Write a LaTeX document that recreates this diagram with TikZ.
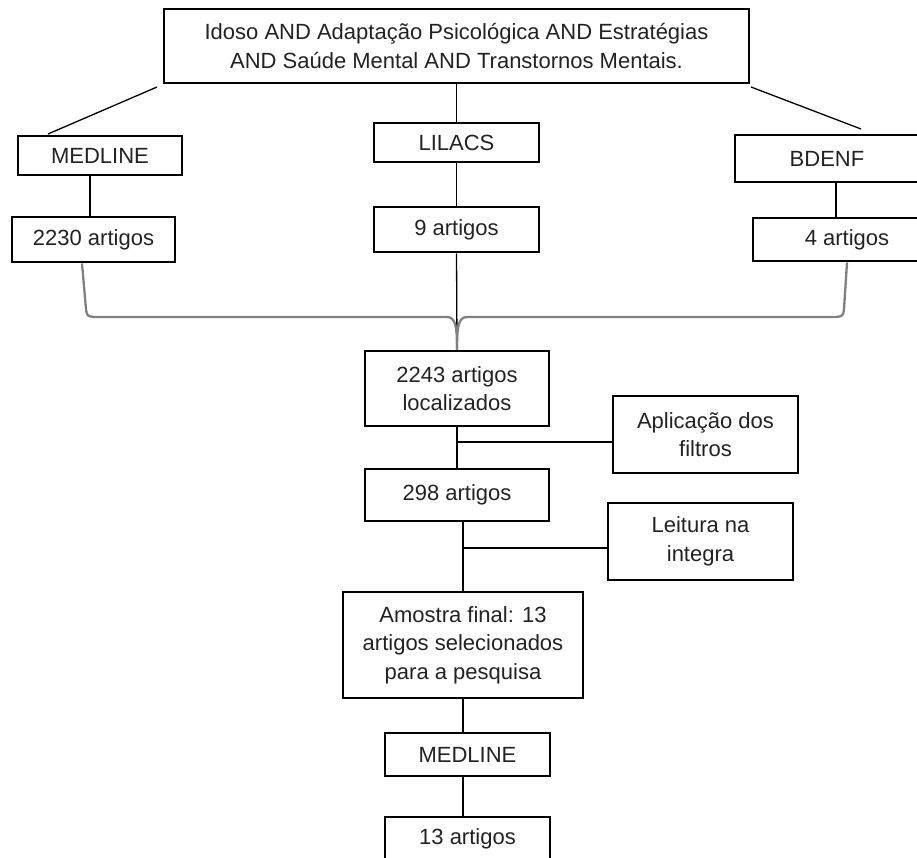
\documentclass[tikz,border=0pt]{standalone}
\usepackage{fontspec}
\setmainfont{Liberation Sans}
\usetikzlibrary{positioning}
\definecolor{FluxoTexto}{HTML}{222222}
\definecolor{FluxoChave}{HTML}{808080}
\tikzset{
  caixa/.style={draw,line width=2.9pt,align=center,inner sep=0pt,
    text=FluxoTexto,font=\fontsize{22}{28.5}\selectfont},
  liga/.style={line width=1.3pt},
  chave/.style={line width=2.3pt,draw=FluxoChave},
}

\begin{document}
\begin{tikzpicture}[x=1pt,y=-1pt]
        \useasboundingbox (0,0) rectangle (917,857);

        % busca
        \node[caixa,minimum width=585pt,minimum height=74pt] (busca) at (456.5,46)
          {Idoso AND Adaptação Psicológica AND Estratégias\\AND Saúde Mental AND Transtornos Mentais.};

        % bases
        \node[caixa,minimum width=164pt,minimum height=39pt] (medline) at (100,155.5) {MEDLINE};
        \node[caixa,minimum width=165pt,minimum height=39pt] (lilacs) at (456.5,142.5) {LILACS};
        \node[caixa,minimum width=184pt,minimum height=47pt] (bdenf) at (827,158.5) {BDENF};

        \node[caixa,minimum width=163pt,minimum height=45pt] (artA) at (93.5,239.5) {2230 artigos};
        \node[caixa,minimum width=165pt,minimum height=45pt] (artB) at (456.5,229.5) {9 artigos};
        \node[caixa,minimum width=188pt,minimum height=43pt] (artC) at (847,239.5) {4 artigos};

        % triagem
        \node[caixa,minimum width=184pt,minimum height=75pt] (agrup) at (457,388.5) {2243 artigos\\localizados};
        \node[caixa,minimum width=185pt,minimum height=77pt] (filtros) at (705.5,434.5) {Aplicação dos\\filtros};
        \node[caixa,minimum width=184pt,minimum height=52pt] (art298) at (457,495) {298 artigos};
        \node[caixa,minimum width=185pt,minimum height=77pt] (leitura) at (700.5,541.5) {Leitura na\\integra};
        \node[caixa,minimum width=240pt,minimum height=106pt] (amostra) at (463,645)
          {Amostra final: 13\\artigos selecionados\\para a pesquisa};
        \node[caixa,minimum width=165pt,minimum height=43pt] (medlineB) at (467.5,754.5) {MEDLINE};
        \node[caixa,minimum width=165pt,minimum height=44pt] (final) at (467.5,839) {13 artigos};

        \coordinate (diagA1) at (157,87);
        \coordinate (diagA2) at (48,134);
        \coordinate (diagB1) at (751,87);
        \coordinate (diagB2) at (861,129);
        \coordinate (ramoF) at (457,442);
        \coordinate (ramoL) at (464,548);

        \draw[liga] (diagA1) -- (diagA2);
        \draw[liga] (diagB1) -- (diagB2);
        \draw[liga] (busca.south) -- (lilacs.north);
        \draw[liga] ([xshift=-10pt]medline.south) -- ([xshift=-10pt]medline.south |- artA.north);
        \draw[liga] ([xshift=9pt]bdenf.south) -- ([xshift=9pt]bdenf.south |- artC.north);
        \draw[liga] (lilacs.south) -- (artB.north);
        \draw[liga] (artB.south) -- (agrup.north);

        % chave
        \draw[chave] ([xshift=-11.5pt]artA.south) -- (86,309)
          .. controls (87,316) .. (94,317) -- (447,317)
          .. controls (456,317) and (457,328) .. (agrup.north);
        \draw[chave] ([xshift=0pt]artC.south) -- (844,309)
          .. controls (843,316) .. (836,317) -- (467,317)
          .. controls (458,317) and (457,328) .. (agrup.north);

        \draw[liga] (agrup.south) -- (art298.north);
        \draw[liga] (ramoF) -- (ramoF -| filtros.west);
        \draw[liga] ([xshift=6pt]art298.south) -- (amostra.north);
        \draw[liga] (ramoL) -- (ramoL -| leitura.west);
        \draw[liga] (amostra.south) -- (amostra.south |- medlineB.north);
        \draw[liga] (medlineB.south -| amostra.south) -- (amostra.south |- final.north);

      \end{tikzpicture}
\end{document}
